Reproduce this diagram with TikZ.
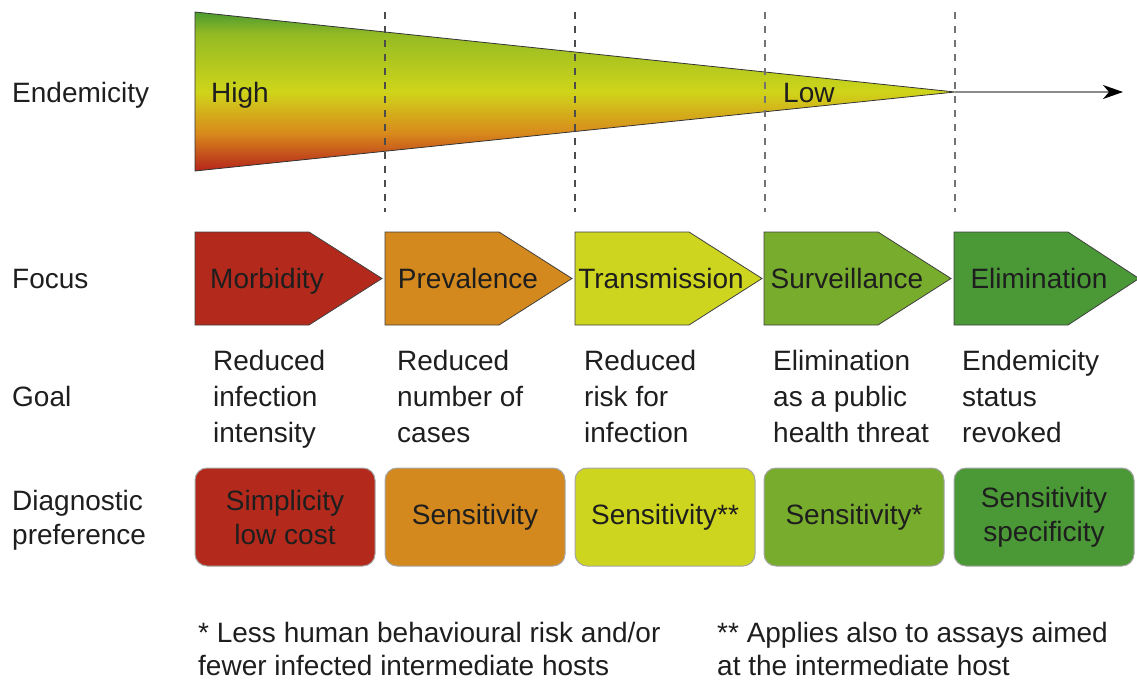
\documentclass[tikz,border=0pt]{standalone}
\usepackage{fontspec}
\setmainfont{Liberation Sans}
\usepackage{tikz}
\usetikzlibrary{arrows.meta}

\definecolor{txt}{HTML}{1E1E1E}
\definecolor{morbred}{HTML}{B32A1C}
\definecolor{prevorange}{HTML}{D3891D}
\definecolor{transyellow}{HTML}{CDD51F}
\definecolor{survgreen}{HTML}{78AC2C}
\definecolor{elimgreen}{HTML}{4A9836}
\definecolor{wedgegreen}{HTML}{4C9A30}
\definecolor{wedgeyellow}{HTML}{CFD51A}
\definecolor{wedgeorange}{HTML}{D88A1C}
\definecolor{wedgered}{HTML}{B5241C}

% vertical ramp for the endemicity wedge, bottom to top
\pgfdeclareverticalshading{endemic}{100bp}{color(0bp)=(wedgered); color(25bp)=(wedgered);
  color(37bp)=(wedgeorange); color(50bp)=(wedgeyellow); color(68bp)=(wedgegreen!45!wedgeyellow);
  color(75bp)=(wedgegreen); color(100bp)=(wedgegreen)}

\tikzstyle{rowlbl} = [anchor=west, inner sep=0pt, text=txt, text height=20pt, text depth=6pt]
\tikzstyle{multi} = [anchor=north west, inner sep=0pt, text=txt, align=left]
\tikzstyle{stage} = [draw=black!75, line width=0.8pt]
\tikzstyle{stagelbl} = [inner sep=0pt, text=txt, text height=20pt, text depth=6pt]
\tikzstyle{diag} = [draw=black!35, line width=1pt, rounded corners=12pt, minimum width=180pt,
                    minimum height=98pt, inner sep=0pt, align=center, text=txt]
\tikzstyle{cut} = [draw=black!70, line width=1.2pt, dash pattern=on 7pt off 7pt]

\begin{document}
\begin{tikzpicture}[x=1pt, y=-1pt, font=\fontsize{28}{34}\selectfont]
    \useasboundingbox (0,0) rectangle (1137,680);

    % endemicity wedge
    \coordinate (wtop) at (195,12);
    \coordinate (wbot) at (195,171);
    \coordinate (apex) at (955,92);
    \coordinate (tip) at (1123,92);
    \shade[shading=endemic] (wtop) -- (apex) -- (wbot) -- cycle;
    \draw[black!80, line width=0.8pt] (wtop) -- (apex) -- (wbot) -- cycle;
    \draw[black!45, line width=1.5pt, -{Stealth[length=20pt, width=14pt, inset=6pt, color=black]}]
      (apex) -- (tip);

    % stage borders
    \draw[cut] (385,12) -- (385,212);
    \draw[cut] (575,12) -- (575,212);
    \draw[cut, draw=black!55] (765,12) -- (765,212);
    \draw[cut, draw=black!55] (955,12) -- (955,212);

    \node[rowlbl] (high) at (211,95) {High};
    \node[rowlbl] (low) at (783,95) {Low};

    % row titles
    \node[rowlbl] (endem) at (12,95) {Endemicity};
    \node[rowlbl] (focus) at (12,281) {Focus};
    \node[rowlbl] (goal) at (12,399) {Goal};
    \node[multi] (diagpref) at (12,490) {Diagnostic\\preference};

    % focus arrows
    \draw[stage, fill=morbred] (195,232) -- (309,232) -- (382,278.5) -- (309,325) -- (195,325) -- cycle;
    \draw[stage, fill=prevorange] (385,232) -- (499,232) -- (572,278.5) -- (499,325) -- (385,325) -- cycle;
    \draw[stage, fill=transyellow] (575,232) -- (689,232) -- (762,278.5) -- (689,325) -- (575,325) -- cycle;
    \draw[stage, fill=survgreen] (764,232) -- (878,232) -- (951,278.5) -- (878,325) -- (764,325) -- cycle;
    \draw[stage, fill=elimgreen] (954,232) -- (1068,232) -- (1139,278.5) -- (1068,325) -- (954,325) -- cycle;
    \node[stagelbl] (morb) at (267,281) {Morbidity};
    \node[stagelbl] (prev) at (468,281) {Prevalence};
    \node[stagelbl] (trans) at (661,281) {Transmission};
    \node[stagelbl] (surv) at (847,281) {Surveillance};
    \node[stagelbl] (elim) at (1039,281) {Elimination};

    % goals
    \begin{scope}[font=\fontsize{28}{36}\selectfont]
      \node[multi] (g1) at (213,350) {Reduced\\infection\\intensity};
      \node[multi] (g2) at (397,350) {Reduced\\number of\\cases};
      \node[multi] (g3) at (584,350) {Reduced\\risk for\\infection};
      \node[multi] (g4) at (773,350) {Elimination\\as a public\\health threat};
      \node[multi] (g5) at (962,350) {Endemicity\\status\\revoked};
    \end{scope}

    % diagnostic preference
    \node[diag, fill=morbred] (d1) at (285,517) {Simplicity\\low cost};
    \node[diag, fill=prevorange] (d2) at (475,517) {Sensitivity};
    \node[diag, fill=transyellow] (d3) at (665,517) {Sensitivity**};
    \node[diag, fill=survgreen] (d4) at (854,517) {Sensitivity*};
    \node[diag, fill=elimgreen] (d5) at (1044,517) {Sensitivity\\specificity};

    % footnotes
    \begin{scope}[font=\fontsize{28}{33}\selectfont]
      \node[multi] (fn1) at (198,622) {* Less human behavioural risk and/or\\fewer infected intermediate hosts};
      \node[multi] (fn2) at (717,622) {** Applies also to assays aimed\\at the intermediate host};
    \end{scope}
\end{tikzpicture}
\end{document}
